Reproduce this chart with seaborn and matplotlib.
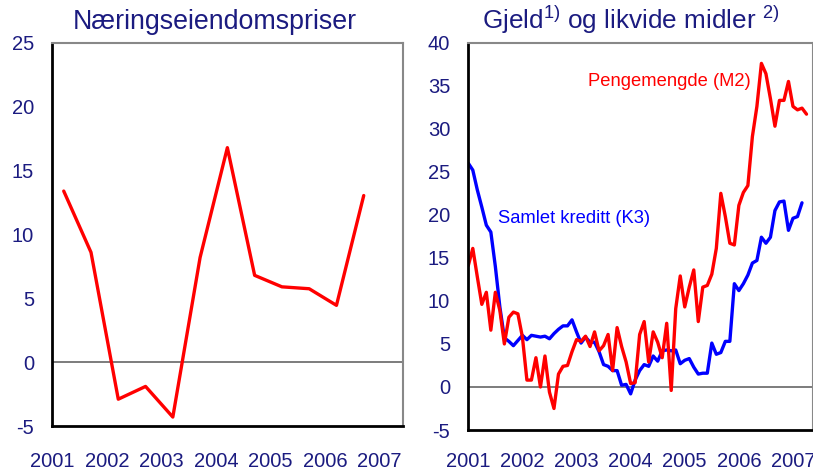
import numpy as np
import pandas as pd
import matplotlib
matplotlib.use("Agg")
import matplotlib.pyplot as plt
import seaborn as sns

# Næringseiendomspriser, halvårlige observasjoner (år som desimaltall)
nering_dates = [2001.21, 2001.71, 2002.21, 2002.71, 2003.21, 2003.71,
                2004.21, 2004.71, 2005.21, 2005.71, 2006.21, 2006.71]
nering_values = [13.4, 8.6, -2.9, -1.9, -4.3, 8.2, 16.8, 6.8, 5.9, 5.75, 4.45, 13.05]

# Månedlige tolvmånedersvekster fra januar 2001
m2_values = [14.1, 16.1, 12.8, 9.6, 11.0, 6.6, 11.0, 8.9, 5.0, 8.1, 8.7, 8.5,
             5.8, 0.8, 0.8, 3.4, 0.0, 3.6, -0.6, -2.5, 1.5, 2.4, 2.5, 4.1,
             5.5, 5.3, 5.9, 4.7, 6.4, 4.2, 4.8, 6.1, 1.9, 6.9, 4.7, 2.9,
             0.4, 0.5, 6.1, 7.6, 2.9, 6.4, 5.2, 3.4, 7.4, -0.4, 9.1, 12.9,
             9.3, 11.6, 13.6, 7.6, 11.6, 11.8, 13.1, 16.1, 22.5, 19.8, 16.7, 16.5,
             21.1, 22.6, 23.4, 29.1, 32.6, 37.6, 36.4, 33.5, 30.3, 33.3, 33.3, 35.5,
             32.6, 32.2, 32.4, 31.7]
k3_values = [26.0, 25.2, 22.9, 20.9, 18.8, 18.0, 14.0, 9.3, 5.7, 5.3, 4.8, 5.4,
             6.0, 5.5, 6.0, 5.9, 5.8, 5.9, 5.6, 6.2, 6.7, 7.1, 7.1, 7.8,
             6.4, 5.1, 5.8, 5.2, 5.2, 4.1, 2.6, 2.4, 1.9, 1.9, 0.2, 0.3,
             -0.8, 0.8, 1.9, 2.6, 2.4, 3.6, 3.0, 4.2, 4.3, 4.2, 4.3, 2.7,
             3.1, 3.3, 2.3, 1.5, 1.6, 1.6, 5.1, 3.8, 4.0, 5.3, 5.3, 12.0,
             11.2, 12.0, 13.0, 14.4, 14.7, 17.4, 16.7, 17.4, 20.5, 21.5, 21.6, 18.2,
             19.6, 19.8, 21.4]

years = [2001, 2002, 2003, 2004, 2005, 2006, 2007]
titles = ["Næringseiendomspriser", r"Gjeld$^{1)}$ og likvide midler $^{2)}$"]

navy = "#1b1b80"
red = "#ff0000"
blue = "#0000ff"

df_left = pd.DataFrame({"dato": nering_dates, "verdi": nering_values})
df_m2 = pd.DataFrame({"dato": 2001 + np.arange(len(m2_values)) / 12, "verdi": m2_values})
df_k3 = pd.DataFrame({"dato": 2001 + np.arange(len(k3_values)) / 12, "verdi": k3_values})

sns.set_theme(style="white")
plt.rcParams['font.family'] = ['Liberation Sans', 'DejaVu Sans']
plt.rcParams['mathtext.fontset'] = 'custom'
plt.rcParams['mathtext.rm'] = 'Liberation Sans'
plt.rcParams['mathtext.it'] = 'Liberation Sans'
plt.rcParams['axes.unicode_minus'] = False

fig = plt.figure(figsize=(8.13, 4.70), dpi=100)
ax1 = fig.add_axes([0.0643, 0.0936, 0.4314, 0.815])
ax2 = fig.add_axes([0.576, 0.0851, 0.424, 0.824])

sns.lineplot(data=df_left, x="dato", y="verdi", ax=ax1, color=red, linewidth=2.4)
sns.lineplot(data=df_k3, x="dato", y="verdi", ax=ax2, color=blue, linewidth=2.4)
sns.lineplot(data=df_m2, x="dato", y="verdi", ax=ax2, color=red, linewidth=2.4)


def style_axis(ax, ylim, yticks, xmax, title, title_x, title_size):
    ax.set_xlim(2001, xmax)
    ax.set_ylim(*ylim)
    ax.set_yticks(yticks)
    ax.set_xticks(years)
    ax.set_xlabel("")
    ax.set_ylabel("")
    ax.axhline(0, color="#666666", linewidth=1.2, zorder=1)
    ax.tick_params(axis="both", direction="in", length=6, width=1.4,
                   colors="black", labelcolor=navy, labelsize=14.5)
    ax.tick_params(axis="y", pad=13)
    for side in ["left", "bottom"]:
        ax.spines[side].set_color("black")
        ax.spines[side].set_linewidth(2)
    for side in ["top", "right"]:
        ax.spines[side].set_color("#888888")
        ax.spines[side].set_linewidth(1.5)
    ax.set_title(title, color=navy, fontsize=title_size, pad=10, x=title_x)


style_axis(ax1, (-5, 25), [-5, 0, 5, 10, 15, 20, 25], 2007.43, titles[0], 0.4625, 19.3)
ax1.tick_params(axis="x", pad=19)
style_axis(ax2, (-5, 40), [-5, 0, 5, 10, 15, 20, 25, 30, 35, 40], 2007.37, titles[1], 0.472, 18.8)
ax2.tick_params(axis="x", pad=16)

ax2.text(2003.21, 35.5, "Pengemengde (M2)", color=red, fontsize=13.2, va="center", ha="left")
ax2.text(2001.54, 19.6, "Samlet kreditt (K3)", color=blue, fontsize=13.2, va="center", ha="left")

fig.savefig("out.png", dpi=100)
